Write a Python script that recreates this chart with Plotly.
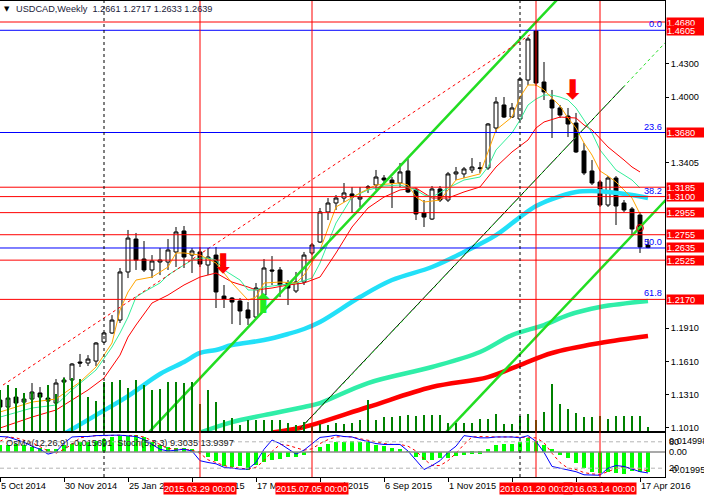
import plotly.graph_objects as go

# USDCAD weekly candles, bar 0 = week of 5 Oct 2014, one bar per week up to 24 Apr 2016
bar_open = [1.1259, 1.1196, 1.1286, 1.1241, 1.1268, 1.1323, 1.1277, 1.1232, 1.1422, 1.1440,
            1.1603, 1.1594, 1.1612, 1.1784, 1.1866, 1.1983, 1.2418, 1.2716, 1.2535, 1.2436,
            1.2508, 1.2508, 1.2599, 1.2789, 1.2571, 1.2599, 1.2481, 1.2571, 1.2200, 1.2182,
            1.2155, 1.2074, 1.2010, 1.2209, 1.2436, 1.2436, 1.2318, 1.2246, 1.2327, 1.2590,
            1.2689, 1.2961, 1.3042, 1.3087, 1.3124, 1.3078, 1.3178, 1.3205, 1.3268, 1.3250,
            1.3223, 1.3332, 1.3160, 1.2952, 1.2897, 1.3169, 1.3069, 1.3305, 1.3305, 1.3341,
            1.3354, 1.3359, 1.3721, 1.3929, 1.3820, 1.3802, 1.4155, 1.4598, 1.4137, 1.3974,
            1.3902, 1.3829, 1.3766, 1.3513, 1.3332, 1.3232, 1.3024, 1.3268, 1.3042, 1.2988,
            1.2933, 1.2661]
bar_high = [1.1304, 1.1304, 1.1323, 1.1323, 1.1413, 1.1377, 1.1295, 1.1449, 1.1467, 1.1594,
            1.1676, 1.1666, 1.1784, 1.1875, 1.2028, 1.2454, 1.2798, 1.2771, 1.2698, 1.2571,
            1.2635, 1.2716, 1.2825, 1.2834, 1.2635, 1.2644, 1.2635, 1.2644, 1.2300, 1.2191,
            1.2182, 1.2146, 1.2318, 1.2535, 1.2562, 1.2463, 1.2345, 1.2418, 1.2599, 1.2680,
            1.2997, 1.3087, 1.3114, 1.3223, 1.3187, 1.3187, 1.3205, 1.3341, 1.3295, 1.3277,
            1.3404, 1.3440, 1.3178, 1.3069, 1.3196, 1.3196, 1.3323, 1.3368, 1.3368, 1.3449,
            1.3413, 1.3766, 1.4001, 1.4001, 1.3947, 1.4182, 1.4544, 1.4605, 1.4318, 1.4065,
            1.3929, 1.3902, 1.3857, 1.3585, 1.3431, 1.3250, 1.3286, 1.3286, 1.3069, 1.3006,
            1.2961, 1.2717]
bar_low = [1.1169, 1.1187, 1.1214, 1.1232, 1.1241, 1.1259, 1.1232, 1.1223, 1.1395, 1.1422,
           1.1558, 1.1567, 1.1567, 1.1775, 1.1857, 1.1956, 1.2363, 1.2436, 1.2418, 1.2363,
           1.2390, 1.2436, 1.2463, 1.2454, 1.2409, 1.2463, 1.2390, 1.2092, 1.2092, 1.1947,
           1.1938, 1.1938, 1.2001, 1.2191, 1.2300, 1.2191, 1.2119, 1.2228, 1.2300, 1.2571,
           1.2680, 1.2888, 1.2979, 1.3051, 1.2952, 1.3006, 1.3133, 1.3160, 1.3205, 1.2997,
           1.3187, 1.3133, 1.2888, 1.2825, 1.2888, 1.3051, 1.3051, 1.3250, 1.3268, 1.3314,
           1.3314, 1.3341, 1.3676, 1.3811, 1.3811, 1.3793, 1.4110, 1.4101, 1.3974, 1.3630,
           1.3811, 1.3639, 1.3495, 1.3295, 1.3205, 1.3006, 1.3006, 1.2843, 1.2961, 1.2752,
           1.2590, 1.2633]
bar_close = [1.1196, 1.1277, 1.1232, 1.1268, 1.1332, 1.1286, 1.1250, 1.1413, 1.1440, 1.1585,
             1.1594, 1.1630, 1.1775, 1.1866, 1.1983, 1.2418, 1.2725, 1.2526, 1.2436, 1.2517,
             1.2526, 1.2617, 1.2780, 1.2553, 1.2608, 1.2490, 1.2553, 1.2237, 1.2173, 1.2146,
             1.2065, 1.2001, 1.2273, 1.2454, 1.2427, 1.2300, 1.2273, 1.2327, 1.2571, 1.2662,
             1.2961, 1.3042, 1.3087, 1.3133, 1.3096, 1.3096, 1.3187, 1.3277, 1.3250, 1.3223,
             1.3323, 1.3142, 1.2943, 1.2915, 1.3169, 1.3069, 1.3305, 1.3323, 1.3350, 1.3368,
             1.3359, 1.3757, 1.3956, 1.3820, 1.3902, 1.4164, 1.4526, 1.4128, 1.4047, 1.3902,
             1.3838, 1.3757, 1.3504, 1.3314, 1.3223, 1.3024, 1.3268, 1.3015, 1.2979, 1.2807,
             1.2644, 1.2639]
# tick volume, thousands
volume_k = [41, 46, 43, 38, 39, 37, 46, 37, 53, 53,
            52, 34, 30, 49, 49, 51, 43, 51, 46, 41,
            42, 49, 49, 48, 49, 27, 41, 29, 11, 13,
            6, 11, 11, 11, 11, 11, 8, 6, 9, 5,
            7, 6, 8, 7, 8, 11, 31, 11, 14, 14,
            15, 16, 15, 16, 16, 16, 8, 8, 8, 8,
            12, 12, 17, 7, 7, 15, 17, 11, 19, 47,
            27, 22, 18, 14, 14, 15, 12, 15, 15, 15,
            15, 4]
osma = [0.0057, 0.0057, 0.0064, 0.0051, 0.0039, 0.0031, 0.0026, 0.0026, 0.0051, 0.0064,
        0.0078, 0.0078, 0.0090, 0.0103, 0.0117, 0.0124, 0.0129, 0.0134, 0.0117, 0.0078,
        0.0051, 0.0039, 0.0031, 0.0031, 0.0020, 0.0003, -0.0037, -0.0075, -0.0110, -0.0122,
        -0.0114, -0.0145, -0.0106, -0.0083, -0.0068, -0.0060, -0.0044, -0.0037, -0.0021, 0.0005,
        0.0041, 0.0064, 0.0080, 0.0080, 0.0088, 0.0080, 0.0078, 0.0057, 0.0049, 0.0033,
        0.0020, 0.0005, -0.0037, -0.0065, -0.0065, -0.0052, -0.0047, -0.0031, -0.0026, -0.0013,
        -0.0013, 0.0026, 0.0057, 0.0064, 0.0064, 0.0078, 0.0109, 0.0090, 0.0057, 0.0026,
        -0.0026, -0.0047, -0.0085, -0.0124, -0.0161, -0.0169, -0.0161, -0.0169, -0.0174, -0.0155,
        -0.0161, -0.015691]
stoch_main = [92, 91, 85, 79, 70, 63, 52, 57, 77, 91,
              92, 92, 94, 95, 95, 95, 94, 92, 85, 74,
              63, 59, 61, 63, 59, 37, 33, 30, 22, 20,
              18, 18, 33, 63, 84, 76, 63, 52, 61, 76,
              90, 92, 95, 92, 91, 85, 80, 76, 74, 74,
              74, 59, 37, 17, 26, 37, 56, 70, 94, 91,
              89, 89, 91, 91, 91, 89, 94, 81, 56, 24,
              20, 17, 12, 5, 4, 4, 20, 26, 24, 18,
              12, 9.3035]
stoch_signal = [81, 91, 89, 83, 78, 69, 59, 54, 63, 74,
                89, 92, 94, 94, 95, 95, 94, 94, 91, 83,
                74, 65, 63, 63, 61, 54, 39, 33, 26, 22,
                20, 18, 22, 37, 58, 74, 72, 67, 61, 64,
                76, 85, 91, 92, 91, 87, 84, 80, 76, 74,
                74, 70, 59, 41, 26, 26, 37, 54, 74, 91,
                92, 91, 91, 91, 91, 91, 89, 89, 78, 54,
                33, 20, 17, 10, 7, 6, 12, 20, 24, 18,
                18, 13.9397]

# moving averages (bar index, price)
orange_bars = [0, 4, 7, 10, 12, 14, 15, 16, 17, 19, 21, 22, 23, 25, 27, 29, 31, 32, 33, 35, 37, 38, 40,
               42, 45, 47, 50, 51, 52, 53, 55, 56, 57, 60, 61, 62, 64, 65, 66, 67, 68, 69, 70, 71,
               72, 73, 74, 75, 76, 77, 78, 79, 80]
orange_vals = [1.1151, 1.1241, 1.1268, 1.1422, 1.1558, 1.1775, 1.2074, 1.2237, 1.2345, 1.2372, 1.2463,
               1.2590, 1.2590, 1.2571, 1.2499, 1.2318, 1.2164, 1.2191, 1.2318, 1.2327, 1.2318, 1.2390,
               1.2617, 1.3006, 1.3133, 1.3205, 1.3223, 1.3205, 1.3096, 1.3051, 1.3069, 1.3160, 1.3250,
               1.3305, 1.3495, 1.3703, 1.3820, 1.4001, 1.4110, 1.4110, 1.4065, 1.3992, 1.3920, 1.3811,
               1.3721, 1.3585, 1.3476, 1.3332, 1.3286, 1.3232, 1.3160, 1.3087, 1.2943]
green_bars = [0, 4, 7, 9, 12, 14, 15, 16, 17, 18, 20, 21, 22, 24, 25, 26, 27, 28, 30, 31, 32, 33, 35,
              37, 39, 40, 42, 44, 46, 48, 50, 52, 53, 54, 56, 58, 60, 61, 62, 64, 65, 66, 67, 68, 69,
              70, 71, 72, 73, 74, 75, 76, 77, 78, 79, 80]
green_vals = [1.1105, 1.1187, 1.1214, 1.1350, 1.1531, 1.1739, 1.1866, 1.2010, 1.2191, 1.2237, 1.2318,
              1.2390, 1.2436, 1.2526, 1.2544, 1.2544, 1.2526, 1.2436, 1.2345, 1.2255, 1.2255, 1.2282,
              1.2300, 1.2318, 1.2363, 1.2499, 1.2861, 1.3096, 1.3160, 1.3196, 1.3205, 1.3160, 1.3114,
              1.3096, 1.3178, 1.3250, 1.3277, 1.3368, 1.3522, 1.3676, 1.3793, 1.3929, 1.3983, 1.4019,
              1.4019, 1.4001, 1.3974, 1.3902, 1.3793, 1.3676, 1.3522, 1.3431, 1.3341, 1.3296, 1.3250,
              1.3178]
red_bars = [0, 4, 7, 9, 11, 13, 15, 16, 17, 19, 21, 23, 25, 27, 29, 31, 32, 34, 36, 38, 39, 40, 42, 44,
            46, 48, 50, 52, 54, 56, 58, 60, 62, 64, 66, 67, 68, 70, 72, 73, 74, 76, 78, 79, 80]
red_vals = [1.1006, 1.1105, 1.1169, 1.1259, 1.1350, 1.1458, 1.1666, 1.1829, 1.1938, 1.2137, 1.2209,
            1.2300, 1.2372, 1.2409, 1.2327, 1.2282, 1.2255, 1.2273, 1.2300, 1.2318, 1.2345, 1.2372,
            1.2590, 1.2825, 1.2997, 1.3096, 1.3160, 1.3178, 1.3087, 1.3087, 1.3142, 1.3187, 1.3368,
            1.3504, 1.3612, 1.3721, 1.3775, 1.3820, 1.3811, 1.3748, 1.3703, 1.3549, 1.3431, 1.3368,
            1.3323]
cyan_bars = [8, 12, 16, 20, 23, 25, 27, 29, 33, 36, 38, 40, 45, 49, 54, 58, 62, 65, 67, 69, 72, 74, 76,
             79, 81]
cyan_vals = [1.0952, 1.1123, 1.1295, 1.1495, 1.1603, 1.1685, 1.1712, 1.1757, 1.1802, 1.1857, 1.1902,
             1.1965, 1.2191, 1.2345, 1.2463, 1.2599, 1.2752, 1.2915, 1.3015, 1.3078, 1.3142, 1.3151,
             1.3142, 1.3114, 1.3087]
aqua_bars = [25, 29, 33, 38, 40, 46, 54, 60, 64, 68, 71, 75, 81]
aqua_vals = [1.0965, 1.1060, 1.1123, 1.1196, 1.1232, 1.1413, 1.1558, 1.1694, 1.1847, 1.1938, 1.2028,
             1.2101, 1.2155]
slow_bars = [34, 38, 46, 54, 61, 65, 69, 75, 81]
slow_vals = [1.0965, 1.1015, 1.1196, 1.1377, 1.1467, 1.1576, 1.1685, 1.1775, 1.1838]

# drawn objects: trend lines as two anchor points (bar index, price)
channel_low = [(19, 1.0997), (67.25, 1.4698)]
channel_high = [(56.25, 1.1006), (73.75, 1.2345)]
channel_mid = [(40, 1.1185), (80, 1.4251)]
black_trend = [(37.5, 1.1000), (78, 1.4098)]
red_trend = [(0.375, 1.1395), (66.6, 1.4581)]
red_levels = [1.4680, 1.3185, 1.3100, 1.2955, 1.2755, 1.2525, 1.2170]
fib_names = ["0.0", "23.6", "38.2", "50.0", "61.8"]
fib_levels = [1.4605, 1.3680, 1.3100, 1.2635, 1.2170]
fib_blue = [1.4605, 1.3680, 1.2635]
event_bars = [25, 39, 67, 75]
event_labels = ["2015.03.29 00:00", "2015.07.05 00:00", "2016.01.20 00:00", "2016.03.14 00:00"]
year_bars = [13, 65]
sell_arrows = [(27.9, 1.2472), (71.6, 1.4047)]
buy_arrows = [(32.9, 1.2110)]
mark_circle = [(80, 1.2816)]

price_ticks = [1.4300, 1.4000, 1.3405, 1.1910, 1.1610, 1.1310, 1.1010]
date_bars = [0, 8, 16, 24, 32, 40, 48, 56, 64, 72, 80]
date_labels = ["5 Oct 2014", "30 Nov 2014", "25 Jan 2015", "22 Mar 2015", "17 May 2015", "12 Jul 2015",
               "6 Sep 2015", "1 Nov 2015", "27 Dec 2015", "21 Feb 2016", "17 Apr 2016"]

FONT = "Liberation Sans"
FS = 9.2
X_MAX = 83.125
bars = list(range(len(bar_open)))


def ray(pts, x0, x1):
    (a, pa), (b, pb) = pts
    k = (pb - pa) / (b - a)
    return [x0, x1], [pa + k * (x0 - a), pa + k * (x1 - a)]


fig = go.Figure()

fig.add_trace(go.Bar(x=bars, y=[v * 1000 for v in volume_k], yaxis="y3", width=0.15,
                     marker=dict(color="#008000", line=dict(width=0)), hoverinfo="skip"))

for bx, vals, color, w in [(cyan_bars, cyan_vals, "#22E0F8", 4.5),
                           (aqua_bars, aqua_vals, "#30EEA8", 4.5),
                           (slow_bars, slow_vals, "#FF0000", 4.5)]:
    fig.add_trace(go.Scatter(x=bx, y=vals, mode="lines", line=dict(color=color, width=w, shape="spline"),
                             hoverinfo="skip"))

fig.add_trace(go.Candlestick(
    x=bars, open=bar_open, high=bar_high, low=bar_low, close=bar_close,
    increasing=dict(line=dict(color="black", width=1), fillcolor="white"),
    decreasing=dict(line=dict(color="black", width=1), fillcolor="black"),
    whiskerwidth=0, hoverinfo="skip"))

for bx, vals, color in [(red_bars, red_vals, "#FF0000"),
                        (green_bars, green_vals, "#33EE99"),
                        (orange_bars, orange_vals, "#FFA500")]:
    fig.add_trace(go.Scatter(x=bx, y=vals, mode="lines", line=dict(color=color, width=1),
                             hoverinfo="skip"))

# channel and trend lines
for pts, color, w, dash, x0, x1 in [(channel_low, "#22DD22", 2.5, "solid", 0, X_MAX + 1),
                                    (channel_high, "#22DD22", 2.5, "solid", 40, X_MAX + 1),
                                    (black_trend, "black", 1, "solid", black_trend[0][0], black_trend[1][0]),
                                    (channel_mid, "#22DD22", 1, "dot", 30, X_MAX + 1),
                                    (red_trend, "#FF0000", 1, "dot", red_trend[0][0], red_trend[1][0])]:
    lx, ly = ray(pts, x0, x1)
    fig.add_trace(go.Scatter(x=lx, y=ly, mode="lines", line=dict(color=color, width=w, dash=dash),
                             hoverinfo="skip"))

fig.add_trace(go.Scatter(x=[p[0] for p in sell_arrows], y=[p[1] for p in sell_arrows], mode="text",
                         text=["\u2b07"] * len(sell_arrows), cliponaxis=False,
                         textfont=dict(color="#FF0000", size=27, family="DejaVu Sans"), hoverinfo="skip"))
fig.add_trace(go.Scatter(x=[p[0] for p in buy_arrows], y=[p[1] for p in buy_arrows], mode="text",
                         text=["\u2b06"] * len(buy_arrows), cliponaxis=False,
                         textfont=dict(color="#22EE22", size=27, family="DejaVu Sans"), hoverinfo="skip"))
fig.add_trace(go.Scatter(x=[p[0] for p in mark_circle], y=[p[1] for p in mark_circle], mode="markers",
                         marker=dict(symbol="circle-open", size=7, color="#FF0000", line=dict(width=1)),
                         hoverinfo="skip"))

# indicator window: OsMA histogram + stochastic
fig.add_trace(go.Bar(x=bars, y=osma, xaxis="x2", yaxis="y2", width=0.42,
                     marker=dict(color="#00FF00", line=dict(width=0)), hoverinfo="skip"))
fig.add_trace(go.Scatter(x=bars, y=stoch_signal, xaxis="x2", yaxis="y4", mode="lines",
                         line=dict(color="#FF0000", width=1, dash="3px,3px"), hoverinfo="skip"))
fig.add_trace(go.Scatter(x=bars, y=stoch_main, xaxis="x2", yaxis="y4", mode="lines",
                         line=dict(color="#0000FF", width=1), hoverinfo="skip"))

shapes = []
for v in fib_blue:
    shapes.append(dict(type="line", xref="x domain", yref="y", x0=0, x1=1, y0=v, y1=v,
                       line=dict(color="#0000FF", width=1)))
for v in red_levels:
    shapes.append(dict(type="line", xref="x domain", yref="y", x0=0, x1=1, y0=v, y1=v,
                       line=dict(color="#FF0000", width=1)))
for lv in (80, 20):
    shapes.append(dict(type="line", xref="x2 domain", yref="y4", x0=0, x1=1, y0=lv, y1=lv,
                       line=dict(color="#B4B4B4", width=1, dash="4px,3px")))
shapes.append(dict(type="line", xref="x2 domain", yref="y2", x0=0, x1=1, y0=0, y1=0,
                   line=dict(color="#8C8C8C", width=1.5)))
for b in year_bars:
    shapes.append(dict(type="line", xref="x", yref="paper", x0=b, x1=b, y0=0, y1=1,
                       line=dict(color="black", width=1, dash="3px,3px")))
for b in event_bars:
    shapes.append(dict(type="line", xref="x", yref="paper", x0=b, x1=b, y0=0, y1=1,
                       line=dict(color="#FF0000", width=1)))

ann = []
ann.append(dict(xref="paper", yref="paper", x=0, y=1, xanchor="left", yanchor="top", xshift=2, yshift=-2,
                text="\u25bc", showarrow=False, font=dict(family="DejaVu Sans", size=7, color="black")))
ann.append(dict(xref="paper", yref="paper", x=0, y=1, xanchor="left", yanchor="top", xshift=14, yshift=-1,
                text="USDCAD,Weekly\u00a0\u00a0%.4f %.4f %.4f %.4f" % (bar_open[-1], bar_high[-1],
                                                                    bar_low[-1], bar_close[-1]),
                showarrow=False, font=dict(family=FONT, size=FS, color="#1b1b3a")))
for name, v in zip(fib_names, fib_levels):
    ann.append(dict(xref="paper", yref="y", x=1, y=v, xanchor="right", yanchor="bottom", xshift=-1,
                    yshift=-1, text=name, showarrow=False, font=dict(family=FONT, size=FS, color="#0000FF")))
for v in sorted(set(red_levels + fib_blue), reverse=True):
    ann.append(dict(xref="paper", yref="y", x=1, y=v, xanchor="left", yanchor="middle", xshift=1,
                    text="%.4f" % v, showarrow=False, bgcolor="#FF0000", width=38, height=9,
                    align="left", borderpad=0, font=dict(family=FONT, size=FS, color="white")))
ann.append(dict(xref="paper", yref="paper", x=0, y=0.0714, xanchor="left", yanchor="middle", xshift=4,
                text="OsMA(12,26,9) %.6f\u00a0\u00a0Stoch(5,3,3) %.4f %.4f" % (osma[-1], stoch_main[-1],
                                                                              stoch_signal[-1]),
                showarrow=False, font=dict(family=FONT, size=FS, color="#202020")))
ann.append(dict(xref="paper", yref="y2", x=1, y=0.014998, xanchor="left", yanchor="top", xshift=2,
                yshift=-1, text="0.014998", showarrow=False, font=dict(family=FONT, size=FS, color="black")))
ann.append(dict(xref="paper", yref="y4", x=1, y=80, xanchor="left", yanchor="middle", xshift=2,
                text="80", showarrow=False, font=dict(family=FONT, size=FS, color="black")))
ann.append(dict(xref="paper", yref="y2", x=1, y=0, xanchor="left", yanchor="middle", xshift=2,
                text="0.00", showarrow=False, font=dict(family=FONT, size=FS, color="black")))
ann.append(dict(xref="paper", yref="y4", x=1, y=20, xanchor="left", yanchor="middle", xshift=2,
                text="20", showarrow=False, font=dict(family=FONT, size=FS, color="black")))
ann.append(dict(xref="paper", yref="y2", x=1, y=-0.01995, xanchor="left", yanchor="bottom", xshift=2,
                yshift=0, text="-0.01995", showarrow=False, font=dict(family=FONT, size=FS, color="black")))
for b, lab in zip(event_bars, event_labels):
    ann.append(dict(xref="x", yref="paper", x=b, y=-0.0242, xanchor="center", yanchor="middle",
                    text=lab, showarrow=False, bgcolor="#FF0000", borderpad=0, height=11,
                    font=dict(family=FONT, size=FS, color="white")))

axis_common = dict(showgrid=False, zeroline=False, showline=True, mirror=True, linecolor="black",
                   linewidth=1)
fig.update_layout(
    width=704, height=502,
    margin=dict(l=0, r=39, t=1, b=25),
    paper_bgcolor="white", plot_bgcolor="white",
    showlegend=False, dragmode=False, bargap=0,
    font=dict(family=FONT, size=FS, color="black"),
    xaxis=dict(domain=[0, 1], range=[0, X_MAX], anchor="y", showticklabels=False, ticks="",
               rangeslider=dict(visible=False), **axis_common),
    yaxis=dict(domain=[0.09664, 1.0], range=[1.0979, 1.4870], side="right", anchor="x",
               tickvals=price_ticks, ticktext=["%.4f" % v for v in price_ticks],
               ticks="outside", ticklen=3, tickcolor="black",
               tickfont=dict(family=FONT, size=FS, color="black"), **axis_common),
    yaxis3=dict(overlaying="y", range=[0, 430000], visible=False, anchor="x"),
    xaxis2=dict(domain=[0, 1], matches="x", anchor="y2", tickvals=date_bars, ticktext=date_labels,
                ticks="outside", ticklen=4, tickcolor="black", ticklabelposition="outside right",
                tickfont=dict(family=FONT, size=FS, color="black"), **axis_common),
    yaxis2=dict(domain=[0, 0.09244], range=[-0.01995, 0.014998], side="right", anchor="x2",
                showticklabels=False, ticks="", **axis_common),
    yaxis4=dict(overlaying="y2", range=[0, 100], visible=False, anchor="x2"),
    shapes=shapes,
    annotations=ann,
)

fig.write_html("out.html", config={"displayModeBar": False},
               post_script="document.body.style.margin='0';")
